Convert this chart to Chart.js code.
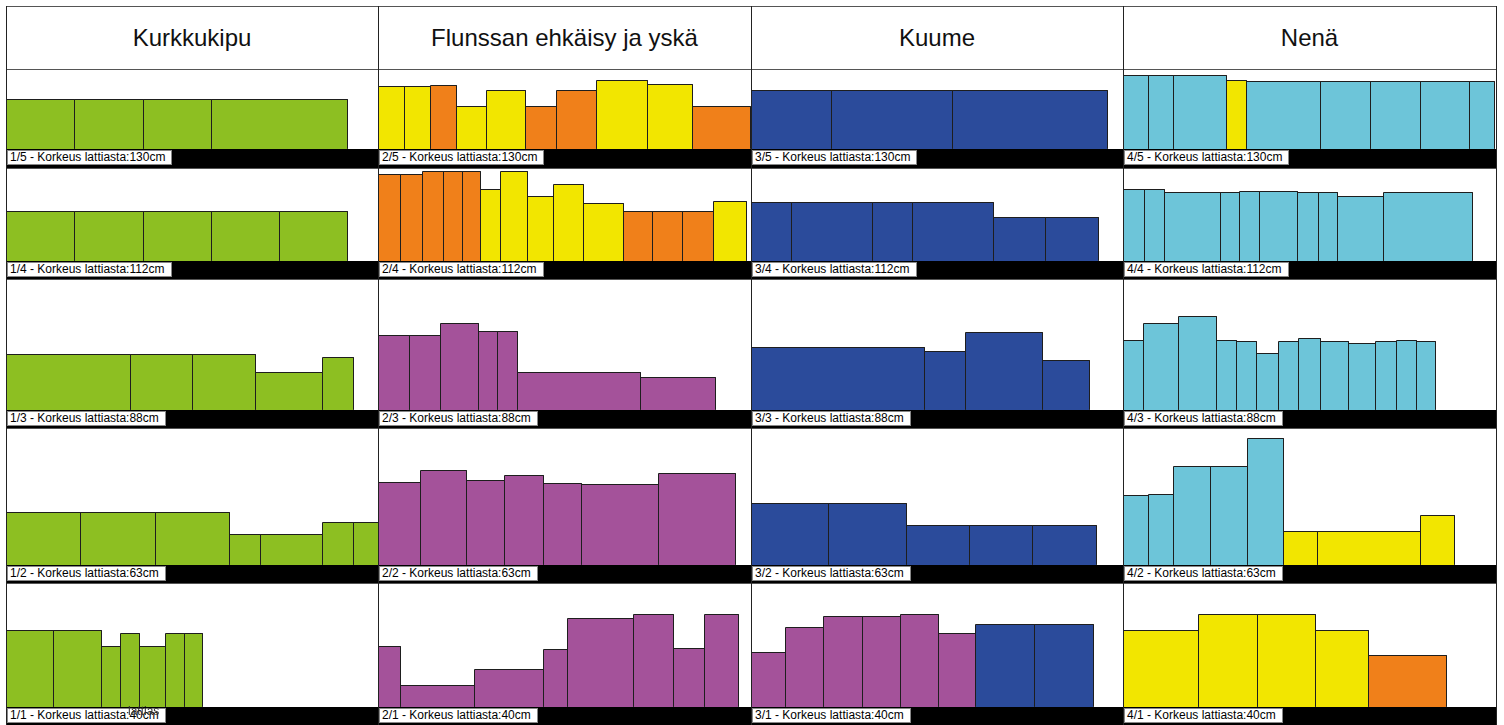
<!DOCTYPE html>
<html>
<head>
<meta charset="utf-8">
<script src="https://cdn.jsdelivr.net/npm/chart.js@4.4.0/dist/chart.umd.min.js"></script>
<style>
body { margin: 0; background: #fff; font-family: "Liberation Sans", Arial, sans-serif; }
#kaavio { position: relative; width: 1504px; height: 725px; overflow: hidden; }
.otsikko { position: absolute; display: flex; align-items: center; justify-content: center; font-size: 24px; color: #111; }
.hylly { position: absolute; }
.palkki { position: absolute; background: #000; }
.nimi { position: absolute; background: #fff; border: 1px solid #888; box-sizing: border-box; height: 15px;
        font-size: 12px; line-height: 13px; padding: 0 6px 0 2px; white-space: nowrap; color: #000; }
.viiva { position: absolute; z-index: 5; }
</style>
</head>
<body>
<div id="kaavio"></div>
<script>
// Sarakkeet ja hyllyt
const sarakkeet = ['Kurkkukipu', 'Flunssan ehkäisy ja yskä', 'Kuume', 'Nenä'];
const hyllyt = [5, 4, 3, 2, 1];
const korkeudet = [130, 112, 88, 63, 40];

// Tuotteet: leveys, korkeus, väri (ylin hylly ensin)
const kurkkuLeveys = [
    [68, 69, 68, 136],
    [68, 69, 68, 68, 68],
    [124, 62, 63, 67, 31],
    [74, 75, 74, 31, 62, 31, 25],
    [47, 48, 19, 19, 26, 19, 18]
];
const kurkkuKorkeus = [
    [49, 49, 49, 49],
    [49, 49, 49, 49, 49],
    [55, 55, 55, 37, 52],
    [52, 52, 52, 30, 30, 42, 42],
    [76, 76, 60, 73, 60, 73, 73]
];
const kurkkuVari = ['GGGG', 'GGGGG', 'GGGGG', 'GGGGGGG', 'GGGGGGG'];

const flunssaLeveys = [
    [26, 26, 26, 30, 39, 31, 40, 51, 45, 58],
    [22, 22, 21, 19, 18, 20, 27, 26, 30, 40, 29, 30, 31, 33],
    [31, 31, 38, 19, 20, 123, 75],
    [42, 46, 38, 39, 38, 77, 77],
    [22, 74, 69, 24, 66, 40, 31, 34]
];
const flunssaKorkeus = [
    [62, 62, 63, 42, 58, 42, 58, 68, 64, 42],
    [86, 86, 89, 89, 89, 71, 89, 64, 76, 57, 49, 49, 49, 59],
    [74, 74, 86, 78, 78, 37, 32],
    [82, 94, 84, 89, 81, 80, 91],
    [60, 21, 37, 57, 88, 92, 58, 92]
];
const flunssaVari = ['YYOYYOOYYO', 'OOOOOYYYYYOOOY', 'PPPPPPP', 'PPPPPPP', 'PPPPPPPP'];

const kuumeLeveys = [
    [80, 121, 155],
    [40, 81, 40, 81, 52, 53],
    [173, 41, 77, 47],
    [77, 78, 63, 63, 64],
    [34, 38, 39, 38, 38, 37, 59, 59]
];
const kuumeKorkeus = [
    [58, 58, 58],
    [58, 58, 58, 58, 43, 43],
    [62, 58, 77, 49],
    [61, 61, 39, 39, 39],
    [54, 79, 90, 90, 92, 73, 82, 82]
];
const kuumeVari = ['BBB', 'BBBBBB', 'BBBB', 'BBBBB', 'PPPPPPBB'];

const nenaLeveys = [
    [25, 25, 53, 20, 74, 50, 50, 49, 25],
    [21, 20, 56, 19, 20, 38, 21, 19, 46, 89],
    [20, 35, 38, 20, 20, 22, 20, 22, 28, 27, 21, 20, 19],
    [25, 25, 37, 37, 36, 34, 103, 34],
    [75, 59, 58, 53, 78]
];
const nenaKorkeus = [
    [73, 73, 73, 68, 67, 67, 67, 67, 67],
    [71, 71, 68, 68, 69, 69, 68, 68, 64, 68],
    [69, 86, 93, 69, 68, 56, 68, 71, 68, 66, 68, 69, 68],
    [69, 70, 98, 98, 126, 33, 33, 49],
    [76, 92, 92, 76, 51]
];
const nenaVari = ['CCCYCCCCC', 'CCCCCCCCCC', 'CCCCCCCCCCCCC', 'CCCCCYYY', 'YYYYO'];

const varit = { G: '#8dbf22', Y: '#f2e600', O: '#f0801a', B: '#2b4b9b', C: '#6dc5d9', P: '#a4529a' };

const leveydet = [kurkkuLeveys, flunssaLeveys, kuumeLeveys, nenaLeveys];
const korkeusTaulu = [kurkkuKorkeus, flunssaKorkeus, kuumeKorkeus, nenaKorkeus];
const variTaulu = [kurkkuVari, flunssaVari, kuumeVari, nenaVari];

// Asettelu
const colX = [6, 378, 751, 1123, 1496];
const rowY = [6, 69, 168, 279, 428, 583, 725];
const palkkiK = [19, 18, 18, 18, 18];

const root = document.getElementById('kaavio');

function div(cls, l, t, w, h) {
    const d = document.createElement('div');
    d.className = cls;
    d.style.left = l + 'px';
    d.style.top = t + 'px';
    if (w != null) d.style.width = w + 'px';
    if (h != null) d.style.height = h + 'px';
    root.appendChild(d);
    return d;
}

for (let c = 0; c < 4; c++) {
    const w = colX[c + 1] - colX[c];
    const ots = div('otsikko', colX[c], rowY[0], w, rowY[1] - rowY[0]);
    ots.textContent = sarakkeet[c];

    for (let r = 0; r < 5; r++) {
        const top = rowY[r + 1] + 1;
        const H = rowY[r + 2] - top - palkkiK[r];

        const cv = document.createElement('canvas');
        cv.className = 'hylly';
        cv.width = w;
        cv.height = H;
        cv.style.left = colX[c] + 'px';
        cv.style.top = top + 'px';
        cv.style.width = w + 'px';
        cv.style.height = H + 'px';
        root.appendChild(cv);

        div('palkki', colX[c], top + H, w, palkkiK[r]);
        const nimi = div('nimi', colX[c] + 1, top + H + 1);
        nimi.textContent = (c + 1) + '/' + hyllyt[r] + ' - Korkeus lattiasta:' + korkeudet[r] + 'cm';

        let x = 0;
        const lev = leveydet[c][r];
        const kor = korkeusTaulu[c][r];
        const vari = variTaulu[c][r];
        const datasets = lev.map((lw, i) => {
            const h = kor[i];
            const ds = {
                data: [{ x: x, y: 0 }, { x: x, y: h }, { x: x + lw, y: h }, { x: x + lw, y: 0 }],
                showLine: true,
                fill: 'start',
                backgroundColor: varit[vari[i]],
                borderColor: '#1e1e1e',
                borderWidth: 1,
                pointRadius: 0,
                pointHoverRadius: 0,
                tension: 0
            };
            x += lw;
            return ds;
        });

        new Chart(cv.getContext('2d'), {
            type: 'scatter',
            data: { datasets: datasets },
            options: {
                responsive: false,
                animation: false,
                events: [],
                layout: { padding: 0, autoPadding: false },
                plugins: { legend: { display: false }, tooltip: { enabled: false } },
                scales: {
                    x: { type: 'linear', display: false, min: -0.5, max: w - 0.5 },
                    y: { type: 'linear', display: false, min: -0.5, max: H - 0.5 }
                }
            }
        });
    }
}

// Ruudukon viivat
for (let r = 0; r < 6; r++) {
    const v = div('viiva', colX[0], rowY[r], colX[4] - colX[0] + 1, 1);
    v.style.background = '#555';
}
for (let c = 0; c < 5; c++) {
    const v = div('viiva', colX[c], rowY[0], 1, rowY[6] - rowY[0]);
    v.style.background = '#222';
}

// päällekkäinen tekstinpätkä alimmalla hyllyllä
const jaama = div('viiva', 128, 704);
jaama.style.fontSize = '12px';
jaama.style.color = '#333';
jaama.textContent = 'lattias';
</script>
</body>
</html>
